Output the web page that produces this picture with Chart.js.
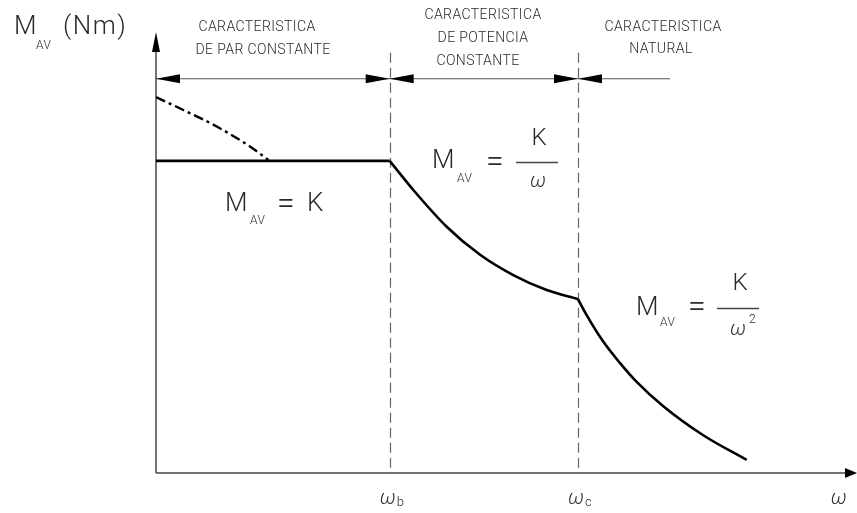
<!DOCTYPE html>
<html>
<head>
<meta charset="utf-8">
<script src="https://cdn.jsdelivr.net/npm/chart.js@4.4.1/dist/chart.umd.min.js"></script>
<style>
html,body{margin:0;padding:0;background:#fff;}
#wrap{width:857px;height:513px;}
</style>
</head>
<body>
<div id="wrap"><canvas id="c" width="857" height="513"></canvas></div>
<script>
// ---- data (x: ω relative to ωb, y: torque relative to K) ----
const flatX = [0, 1.0];
const flatY = [1.0, 1.0];
const potX = [1.0, 1.101, 1.244, 1.387, 1.529, 1.672, 1.806];
const potY = [1.0, 0.907, 0.789, 0.699, 0.634, 0.586, 0.557];
const natX = [1.806, 1.843, 1.914, 1.986, 2.057, 2.171, 2.342, 2.528];
const natY = [0.557, 0.506, 0.421, 0.352, 0.292, 0.214, 0.121, 0.042];
const dashX = [0, 0.117, 0.260, 0.402, 0.481];
const dashY = [1.204, 1.163, 1.110, 1.046, 1.003];
const breakPoints = [1.0, 1.806];          // ωb, ωc
const tickLabels = [["ω","b"],["ω","c"],["ω",""]];
const tickValues = [1.0, 1.806, 2.93];
const regionTexts = [
  ["CARACTERISTICA","DE PAR CONSTANTE"],
  ["CARACTERISTICA","DE POTENCIA","CONSTANTE"],
  ["CARACTERISTICA","NATURAL"]
];

const pts = (xs, ys) => xs.map((x,i)=>({x, y: ys[i]}));
const FONT = "Roboto, 'DejaVu Sans', sans-serif";
const TXT = "#2a2a2a";

function tri(ctx, p, color){
  ctx.beginPath();
  ctx.moveTo(p[0][0], p[0][1]);
  ctx.lineTo(p[1][0], p[1][1]);
  ctx.lineTo(p[2][0], p[2][1]);
  ctx.closePath();
  ctx.fillStyle = color; ctx.fill();
}
function txt(ctx, s, x, y, size, align, italic, spacing){
  ctx.font = (italic ? "italic " : "") + "300 " + size + "px " + FONT;
  ctx.letterSpacing = (spacing || 0) + "px";
  ctx.textAlign = align || "center";
  ctx.textBaseline = "middle";
  ctx.fillStyle = TXT;
  ctx.fillText(s, x, y);
  ctx.letterSpacing = "0px";
}

const overlay = {
  id: 'overlay',
  beforeDatasetsDraw(chart){
    const ctx = chart.ctx, xs = chart.scales.x, ys = chart.scales.y;
    const x0 = xs.getPixelForValue(0), y0 = ys.getPixelForValue(0);
    ctx.save();
    // dashed verticals
    ctx.strokeStyle = "#666"; ctx.lineWidth = 1.2; ctx.setLineDash([10,5]);
    breakPoints.forEach(v=>{
      const px = Math.round(xs.getPixelForValue(v))+0.5;
      ctx.beginPath(); ctx.moveTo(px, ys.getPixelForValue(1.346)); ctx.lineTo(px, y0); ctx.stroke();
    });
    ctx.setLineDash([]);
    // dimension line
    const dy = ys.getPixelForValue(1.263);
    ctx.strokeStyle = "#555"; ctx.lineWidth = 1.2;
    ctx.beginPath(); ctx.moveTo(x0, dy); ctx.lineTo(xs.getPixelForValue(2.20), dy); ctx.stroke();
    const aw = 24, ah = 4.5;
    tri(ctx, [[x0, dy],[x0+aw, dy-ah],[x0+aw, dy+ah]], "#000");
    breakPoints.forEach(v=>{
      const px = xs.getPixelForValue(v);
      tri(ctx, [[px, dy],[px-aw, dy-ah],[px-aw, dy+ah]], "#000");
      tri(ctx, [[px, dy],[px+aw, dy-ah],[px+aw, dy+ah]], "#000");
    });
    // axes
    ctx.strokeStyle = "#444"; ctx.lineWidth = 1.5;
    ctx.beginPath(); ctx.moveTo(x0, y0); ctx.lineTo(x0, 40); ctx.stroke();
    ctx.beginPath(); ctx.moveTo(x0, y0); ctx.lineTo(850, y0); ctx.stroke();
    tri(ctx, [[x0, 32],[x0-4, 52],[x0+4, 52]], "#000");
    tri(ctx, [[857, y0],[845, y0-5],[845, y0+5]], "#000");
    ctx.restore();
  },
  afterDraw(chart){
    const ctx = chart.ctx, xs = chart.scales.x;
    ctx.save();
    // region texts
    const rpos = [[[257,27],[263,50]], [[483,15],[483,38],[478,61]], [[663,27],[661,49]]];
    regionTexts.forEach((lines, r)=>lines.forEach((s,i)=>txt(ctx, s, rpos[r][i][0], rpos[r][i][1], 14, "center", false, 0.4)));
    // y axis title
    txt(ctx, "M", 14, 27, 26, "left");
    txt(ctx, "AV", 36, 46, 12, "left", false, 0.5);
    txt(ctx, "(Nm)", 63, 27, 26, "left", false, 1.5);
    // tick labels
    tickLabels.forEach((lab, i)=>{
      const px = xs.getPixelForValue(tickValues[i]);
      txt(ctx, lab[0], px-2, 499, 20, "center", true);
      if (lab[1]) txt(ctx, lab[1], px+7, 503, 13, "left");
    });
    // equation 1
    txt(ctx, "M", 225, 204, 26, "left");
    txt(ctx, "AV", 250, 221, 12, "left", false, 0.5);
    txt(ctx, "=", 277, 205, 32, "left");
    txt(ctx, "K", 307, 204, 26, "left");
    // equation 2
    txt(ctx, "M", 432, 161, 26, "left");
    txt(ctx, "AV", 457, 179, 12, "left", false, 0.5);
    txt(ctx, "=", 486, 163, 32, "left");
    ctx.strokeStyle = "#444"; ctx.lineWidth = 1.3;
    ctx.beginPath(); ctx.moveTo(516, 162.5); ctx.lineTo(558, 162.5); ctx.stroke();
    txt(ctx, "K", 539, 139, 24, "center");
    txt(ctx, "ω", 538, 182, 20, "center", true);
    // equation 3
    txt(ctx, "M", 636, 308, 26, "left");
    txt(ctx, "AV", 660, 323, 12, "left", false, 0.5);
    txt(ctx, "=", 688, 308, 32, "left");
    ctx.beginPath(); ctx.moveTo(717, 308.5); ctx.lineTo(759, 308.5); ctx.stroke();
    txt(ctx, "K", 740, 284, 24, "center");
    txt(ctx, "ω", 738, 330, 20, "center", true);
    txt(ctx, "2", 749, 320, 12, "left");
    ctx.restore();
  }
};

const lineStyle = {borderColor:"#000", borderWidth:2.6, pointRadius:0, showLine:true, fill:false};
new Chart(document.getElementById('c'), {
  type: 'scatter',
  data: {
    datasets: [
      Object.assign({data: pts(flatX, flatY), tension:0}, lineStyle),
      Object.assign({data: pts(potX, potY), cubicInterpolationMode:'monotone'}, lineStyle),
      Object.assign({data: pts(natX, natY), cubicInterpolationMode:'monotone'}, lineStyle),
      Object.assign({data: pts(dashX, dashY), cubicInterpolationMode:'monotone', borderDash:[10,4,3,4]}, lineStyle, {borderWidth:2.4})
    ]
  },
  options: {
    responsive:false, animation:false,
    layout:{padding:{left:156, right:0, top:36, bottom:40}},
    plugins:{legend:{display:false}, tooltip:{enabled:false}},
    scales:{
      x:{type:'linear', min:0, max:3, display:false},
      y:{type:'linear', min:0, max:1.4, display:false}
    }
  },
  plugins:[overlay]
});
</script>
</body>
</html>
